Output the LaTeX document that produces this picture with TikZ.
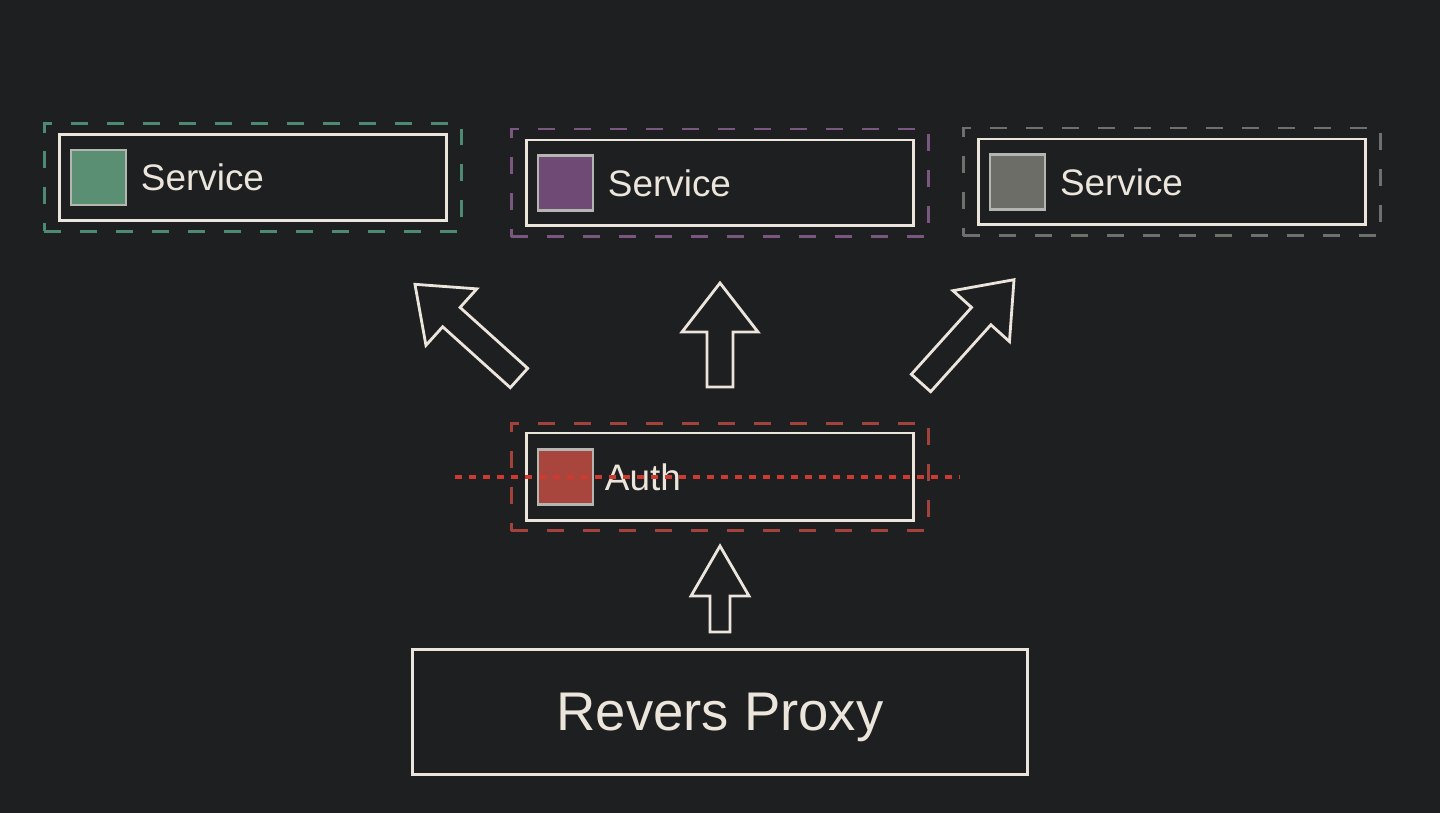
\documentclass[tikz,border=0pt]{standalone}
\usepackage{fontspec}
\setmainfont{Liberation Sans}
\usetikzlibrary{positioning}

\definecolor{bgdark}{HTML}{1E1F21}
\definecolor{chalk}{HTML}{ECE5DB}
\definecolor{edgegrey}{HTML}{B4B6B2}
\definecolor{fillgreen}{HTML}{5A8F73}
\definecolor{dashgreen}{HTML}{4E8A72}
\definecolor{fillpurple}{HTML}{6E4A74}
\definecolor{dashpurple}{HTML}{7A5680}
\definecolor{fillgrey}{HTML}{6C6D67}
\definecolor{dashgrey}{HTML}{6E706E}
\definecolor{fillred}{HTML}{A8463E}
\definecolor{dashred}{HTML}{A2423A}
\definecolor{cutred}{HTML}{CC3A32}

\tikzset{
    box/.style={draw=chalk, line width=1.7pt, minimum width=7.76cm, minimum height=1.72cm, inner sep=0pt},
    zone/.style={draw=#1, line width=1.7pt, dash pattern=on 0.34cm off 0.38cm, minimum width=8.36cm, minimum height=2.16cm},
    swatch/.style={draw=edgegrey, line width=1.2pt, fill=#1, minimum size=1.1cm, inner sep=0pt},
    tag/.style={text=chalk, inner sep=0pt, font=\fontsize{21}{25}\selectfont},
    arrowline/.style={draw=chalk, line width=1.6pt},
    pics/blockarrow/.style n args={4}{code={
        \draw[arrowline] (-#4,0) -- (-#4,#2-#1) -- (-#3,#2-#1) -- (0,-#1) -- (#3,#2-#1) -- (#4,#2-#1) -- (#4,0) -- cycle;
    }},
}

\begin{document}
\begin{tikzpicture}[x=0.02cm, y=-0.02cm]
        \fill[bgdark] (0,0) rectangle (1440,813);
        % services
        \foreach \n/\cx/\cy/\f/\d in {svcA/253/177.5/fillgreen/dashgreen, svcB/720/183/fillpurple/dashpurple, svcC/1172/182/fillgrey/dashgrey}{
            \node[zone=\d] (\n-zone) at (\cx,\cy) {};
            \node[box] (\n) at (\cx,\cy) {};
            \node[swatch=\f, right=0.24cm of \n.west] (\n-sq) {};
            \node[tag, right=0.28cm of \n-sq] (\n-txt) {Service};
        }
        % auth
        \node[zone=dashred] (auth-zone) at (720,477) {};
        \node[box, minimum height=1.76cm] (auth) at (720,477) {};
        \node[swatch=fillred, right=0.24cm of auth.west] (auth-sq) {};
        \node[tag, right=0.22cm of auth-sq] (auth-txt) {Auth};
        \coordinate (cutL) at (455,477);
        \coordinate (cutR) at (960,477);
        \draw[cutred, line width=2.1pt, dash pattern=on 0.14cm off 0.14cm] (cutL) -- (cutR);
        % proxy
        \node[box, minimum width=12.32cm, minimum height=2.52cm, text=chalk, text depth=0pt, font=\fontsize{31}{37}\selectfont] (proxy) at (720,712) {Revers Proxy};
        % arrows
        \foreach \ang/\x/\y/\len in {48/519/378/140, 0/720/387/104, -42/921/383/139}
            \pic[rotate=\ang] at (\x,\y) {blockarrow={\len}{49}{38}{13}};
        \coordinate (proxytop) at (720,632);
        \pic at (proxytop) {blockarrow={86}{50}{29}{10}};
    \end{tikzpicture}
\end{document}
